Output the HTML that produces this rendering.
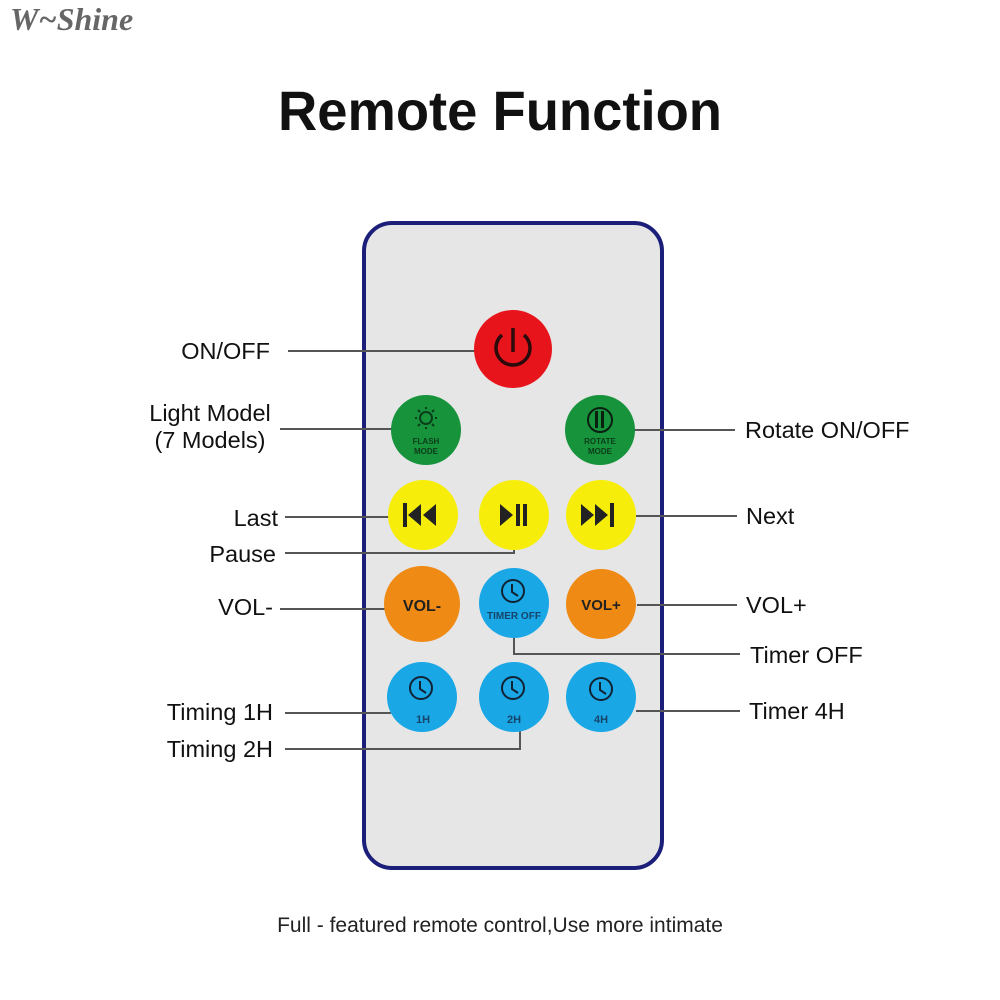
<!DOCTYPE html>
<html><head><meta charset="utf-8"><style>
html,body{margin:0;padding:0;background:#fff;width:1000px;height:1000px;overflow:hidden}
svg{display:block}
</style></head><body>
<svg width="1000" height="1000" viewBox="0 0 1000 1000" font-family="Liberation Sans, sans-serif">
<text x="10" y="30" font-family="Liberation Serif, serif" font-style="italic" font-weight="bold" font-size="32" fill="#666">W~Shine</text>
<text x="500" y="130" text-anchor="middle" font-size="56" font-weight="bold" fill="#111" textLength="444" lengthAdjust="spacingAndGlyphs">Remote Function</text>
<rect x="364" y="223" width="298" height="645" rx="28" fill="#e6e6e6" stroke="#1c1f7a" stroke-width="4"/>
<g stroke="#555" stroke-width="2" fill="none">
<line x1="288" y1="351" x2="476" y2="351"/>
<line x1="280" y1="429" x2="392" y2="429"/>
<line x1="633" y1="430" x2="735" y2="430"/>
<line x1="285" y1="517" x2="390" y2="517"/>
<polyline points="285,553 514,553 514,542"/>
<line x1="636" y1="516" x2="737" y2="516"/>
<line x1="280" y1="609" x2="385" y2="609"/>
<line x1="637" y1="605" x2="737" y2="605"/>
<polyline points="514,638 514,654 740,654"/>
<line x1="285" y1="713" x2="391" y2="713"/>
<polyline points="285,749 520,749 520,731"/>
<line x1="636" y1="711" x2="740" y2="711"/>
</g>
<circle cx="513" cy="349" r="39" fill="#e8141c"/>
<path d="M502,335 A17,17 0 1 0 524,335" fill="none" stroke="#2a0a0a" stroke-width="3.5"/>
<line x1="513" y1="328" x2="513" y2="352" stroke="#2a0a0a" stroke-width="3.5"/>
<circle cx="426" cy="430" r="35" fill="#17933c"/>
<circle cx="426" cy="418" r="6" fill="none" stroke="#0b3d1a" stroke-width="2"/>
<g stroke="#0b3d1a" stroke-width="2"><line x1="426" y1="407" x2="426" y2="409"/><line x1="426" y1="427" x2="426" y2="429"/><line x1="415" y1="418" x2="417" y2="418"/><line x1="435" y1="418" x2="437" y2="418"/><line x1="418" y1="410" x2="420" y2="412"/><line x1="432" y1="424" x2="434" y2="426"/><line x1="434" y1="410" x2="432" y2="412"/><line x1="420" y1="424" x2="418" y2="426"/></g>
<text x="426" y="444" text-anchor="middle" font-size="8" font-weight="bold" fill="#0b3d1a">FLASH</text>
<text x="426" y="454" text-anchor="middle" font-size="8" font-weight="bold" fill="#0b3d1a">MODE</text>
<circle cx="600" cy="430" r="35" fill="#17933c"/>
<circle cx="600" cy="420" r="12" fill="none" stroke="#0b1f10" stroke-width="2"/>
<rect x="595" y="411" width="3" height="17" fill="#0b1f10"/><rect x="601" y="411" width="3" height="17" fill="#0b1f10"/>
<text x="600" y="444" text-anchor="middle" font-size="8" font-weight="bold" fill="#0b3d1a">ROTATE</text>
<text x="600" y="454" text-anchor="middle" font-size="8" font-weight="bold" fill="#0b3d1a">MODE</text>
<circle cx="423" cy="515" r="35" fill="#f6ee0a"/>
<rect x="403" y="503" width="4" height="24" fill="#222"/><polygon points="421,504 408,515 421,526" fill="#222"/><polygon points="436,504 423,515 436,526" fill="#222"/>
<circle cx="514" cy="515" r="35" fill="#f6ee0a"/>
<polygon points="500,504 513,515 500,526" fill="#222"/><rect x="516" y="504" width="4" height="22" fill="#222"/><rect x="523" y="504" width="4" height="22" fill="#222"/>
<circle cx="601" cy="515" r="35" fill="#f6ee0a"/>
<polygon points="581,504 594,515 581,526" fill="#222"/><polygon points="595,504 608,515 595,526" fill="#222"/><rect x="610" y="503" width="4" height="24" fill="#222"/>
<circle cx="422" cy="604" r="38" fill="#ef8a14"/>
<text x="422" y="611" text-anchor="middle" font-size="16" font-weight="bold" fill="#222">VOL-</text>
<circle cx="514" cy="603" r="35" fill="#1aa7e6"/>
<circle cx="513" cy="591" r="11" fill="none" stroke="#123" stroke-width="2"/><polyline points="512,584 512,592 518,596" fill="none" stroke="#123" stroke-width="2"/>
<text x="514" y="619" text-anchor="middle" font-size="10" font-weight="bold" fill="#15456a">TIMER OFF</text>
<circle cx="601" cy="604" r="35" fill="#ef8a14"/>
<text x="601" y="610" text-anchor="middle" font-size="15" font-weight="bold" fill="#222">VOL+</text>
<g>
<circle cx="422" cy="697" r="35" fill="#1aa7e6"/><circle cx="421" cy="688" r="11" fill="none" stroke="#123" stroke-width="2"/><polyline points="420,681 420,689 426,693" fill="none" stroke="#123" stroke-width="2"/><text x="423" y="723" text-anchor="middle" font-size="11" font-weight="bold" fill="#15456a">1H</text>
<circle cx="514" cy="697" r="35" fill="#1aa7e6"/><circle cx="513" cy="688" r="11" fill="none" stroke="#123" stroke-width="2"/><polyline points="512,681 512,689 518,693" fill="none" stroke="#123" stroke-width="2"/><text x="514" y="723" text-anchor="middle" font-size="11" font-weight="bold" fill="#15456a">2H</text>
<circle cx="601" cy="697" r="35" fill="#1aa7e6"/><circle cx="601" cy="689" r="11" fill="none" stroke="#123" stroke-width="2"/><polyline points="600,682 600,690 606,694" fill="none" stroke="#123" stroke-width="2"/><text x="601" y="723" text-anchor="middle" font-size="11" font-weight="bold" fill="#15456a">4H</text>
</g>
<g font-size="23.5" fill="#111">
<text x="270" y="359" text-anchor="end">ON/OFF</text>
<text x="210" y="421" text-anchor="middle">Light Model</text>
<text x="210" y="448" text-anchor="middle">(7 Models)</text>
<text x="278" y="526" text-anchor="end">Last</text>
<text x="276" y="562" text-anchor="end">Pause</text>
<text x="273" y="615" text-anchor="end">VOL-</text>
<text x="273" y="720" text-anchor="end">Timing 1H</text>
<text x="273" y="757" text-anchor="end">Timing 2H</text>
<text x="745" y="438">Rotate ON/OFF</text>
<text x="746" y="524">Next</text>
<text x="746" y="613">VOL+</text>
<text x="750" y="663">Timer OFF</text>
<text x="749" y="719">Timer 4H</text>
</g>
<text x="500" y="932" text-anchor="middle" font-size="21" fill="#222">Full - featured remote control,Use more intimate</text>
</svg>
</body></html>
